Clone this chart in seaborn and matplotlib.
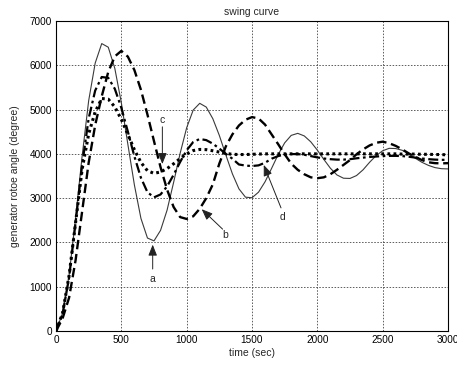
import matplotlib
matplotlib.use("Agg")
import matplotlib.pyplot as plt
import seaborn as sns
import pandas as pd
import numpy as np

time_sec = list(range(0, 3001, 50))

curve_a = [0, 400, 1250, 2550, 3950, 5200, 6050, 6490, 6408, 5931,
           5154, 4215, 3297, 2543, 2099, 2035, 2272, 2728, 3354, 4012,
           4589, 4989, 5141, 5056, 4795, 4416, 3974, 3549, 3210, 3022,
           3009, 3135, 3370, 3672, 3983, 4248, 4417, 4463, 4405, 4271,
           4084, 3874, 3675, 3524, 3450, 3445, 3510, 3640, 3810, 3960,
           4070, 4125, 4120, 4080, 4000, 3900, 3810, 3740, 3690, 3665,
           3660]

curve_b = [0, 280, 750, 1600, 2700, 3800, 4650, 5300, 5850, 6200,
           6325, 6195, 5891, 5446, 4886, 4287, 3700, 3193, 2800, 2572,
           2530, 2590, 2760, 3000, 3310, 3780, 4170, 4440, 4640, 4770,
           4830, 4800, 4660, 4440, 4220, 3990, 3780, 3640, 3540, 3470,
           3450, 3470, 3540, 3640, 3750, 3860, 3990, 4100, 4190, 4250,
           4275, 4240, 4180, 4100, 4010, 3930, 3860, 3810, 3790, 3785,
           3790]

curve_c = [0, 400, 1250, 2450, 3650, 4450, 4950, 5250, 5235, 5060,
           4777, 4438, 4093, 3806, 3618, 3560, 3591, 3667, 3776, 3895,
           4000, 4074, 4100, 4095, 4070, 4040, 4010, 3990, 3985, 3985,
           3990, 3995, 4000, 4000, 4000, 4000, 4000, 4000, 4000, 4000,
           4000, 4000, 4000, 4000, 4000, 4000, 4000, 4000, 4000, 4000,
           4000, 4000, 4000, 3995, 3995, 3995, 3990, 3990, 3985, 3985,
           3975]

curve_d = [0, 380, 1200, 2450, 3750, 4800, 5430, 5735, 5716, 5469,
           5040, 4501, 3942, 3460, 3133, 3018, 3083, 3265, 3526, 3817,
           4081, 4267, 4336, 4310, 4230, 4120, 4000, 3890, 3760, 3735,
           3725, 3740, 3800, 3890, 3950, 3985, 3995, 3995, 3980, 3950,
           3920, 3895, 3880, 3870, 3870, 3880, 3900, 3915, 3930, 3940,
           3950, 3955, 3955, 3950, 3935, 3915, 3895, 3880, 3870, 3865,
           3865]

x_ticks = [0, 500, 1000, 1500, 2000, 2500, 3000]
y_ticks = [0, 1000, 2000, 3000, 4000, 5000, 6000, 7000]

title_text = "swing curve"
x_label = "time (sec)"
y_label = "generator rotoe angle (degree)"

sns.set_theme(style="white")
plt.rcParams["font.family"] = ["Liberation Sans", "DejaVu Sans"]

df = pd.DataFrame({
    "t": time_sec * 4,
    "v": curve_a + curve_b + curve_c + curve_d,
    "curve": ["a"] * len(time_sec) + ["b"] * len(time_sec)
             + ["c"] * len(time_sec) + ["d"] * len(time_sec),
})

fig = plt.figure(figsize=(4.57, 3.65), dpi=100)
ax = fig.add_axes([56 / 457, 1 - 331 / 365, (448 - 56) / 457, (331 - 21) / 365])

styles = {
    "a": dict(color="#3a3a3a", lw=0.8, ls="-"),
    "b": dict(color="black", lw=1.7, dashes=(4.0, 2.0)),
    "c": dict(color="black", lw=2.2, dashes=(0.9, 1.1)),
    "d": dict(color="black", lw=1.6, dashes=(4.5, 1.6, 1.2, 1.6)),
}
for name, st in styles.items():
    sub = df[df["curve"] == name]
    line_kw = dict(color=st["color"], linewidth=st["lw"])
    sns.lineplot(data=sub, x="t", y="v", ax=ax, legend=False, **line_kw)
    ln = ax.lines[-1]
    if "dashes" in st:
        ln.set_dashes(st["dashes"])
        ln.set_dash_capstyle("butt")

ax.set_xlim(0, 3000)
ax.set_ylim(0, 7000)
ax.set_xticks(x_ticks)
ax.set_yticks(y_ticks)
ax.set_xticklabels([str(v) for v in x_ticks], fontsize=7.2)
ax.set_yticklabels([str(v) for v in y_ticks], fontsize=7.2)
ax.tick_params(direction="in", length=3, width=0.6, colors="black", pad=3)
ax.grid(True, color="#333333", linestyle=(0, (2, 2)), linewidth=0.55)
for s in ax.spines.values():
    s.set_color("black")
    s.set_linewidth(0.8)
ax.set_xlabel(x_label, fontsize=7.5, labelpad=2)
ax.set_ylabel(y_label, fontsize=7.5, labelpad=7)
ax.set_title(title_text, fontsize=7.5, pad=4)

arrow_kw = dict(arrowstyle="-|>,head_length=0.55,head_width=0.22", color="#222222",
                lw=0.7, shrinkA=0, shrinkB=0)
ax.annotate("", xy=(740, 1950), xytext=(740, 1400), arrowprops=arrow_kw)
ax.text(735, 1180, "a", fontsize=7.5, ha="center", va="center")
ax.annotate("", xy=(1115, 2750), xytext=(1275, 2300), arrowprops=arrow_kw)
ax.text(1293, 2160, "b", fontsize=7.5, ha="center", va="center")
ax.annotate("", xy=(814, 3770), xytext=(814, 4610), arrowprops=arrow_kw)
ax.text(814, 4760, "c", fontsize=7.5, ha="center", va="center")
ax.annotate("", xy=(1590, 3750), xytext=(1722, 2780), arrowprops=arrow_kw)
ax.text(1735, 2580, "d", fontsize=7.5, ha="center", va="center")

fig.savefig("out.png", dpi=100)
